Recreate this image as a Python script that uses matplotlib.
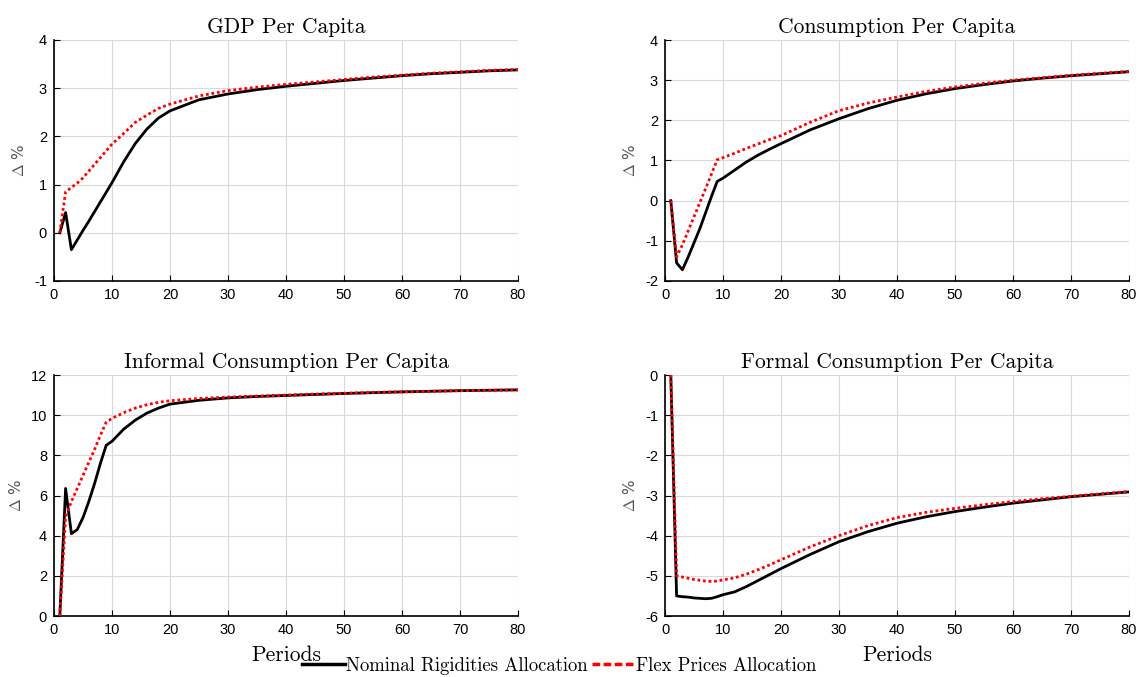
import matplotlib
matplotlib.use("Agg")
import matplotlib.pyplot as plt
from matplotlib.lines import Line2D

plt.rcParams["mathtext.fontset"] = "cm"
plt.rcParams["axes.unicode_minus"] = False

periods = [1, 2, 3, 4, 5, 6, 7, 8, 9, 10, 12, 14, 16, 18, 20, 25, 30, 35, 40,
           45, 50, 55, 60, 65, 70, 75, 80]

gdp_nom = [0, 0.42, -0.35, -0.15, 0.05, 0.24, 0.44, 0.64, 0.84, 1.04, 1.47, 1.85,
           2.15, 2.38, 2.53, 2.76, 2.88, 2.97, 3.04, 3.10, 3.16, 3.21, 3.26, 3.30,
           3.33, 3.36, 3.38]
gdp_flex = [0, 0.85, 0.94, 1.03, 1.14, 1.28, 1.42, 1.56, 1.70, 1.84, 2.06, 2.29,
            2.44, 2.58, 2.67, 2.84, 2.95, 3.02, 3.08, 3.13, 3.18, 3.23, 3.27, 3.31,
            3.34, 3.37, 3.39]

cons_nom = [0, -1.55, -1.72, -1.40, -1.05, -0.70, -0.30, 0.10, 0.48, 0.56, 0.76,
            0.96, 1.13, 1.28, 1.42, 1.76, 2.04, 2.29, 2.50, 2.66, 2.79, 2.89, 2.98,
            3.05, 3.11, 3.16, 3.21]
cons_flex = [0, -1.40, -1.10, -0.75, -0.40, -0.05, 0.30, 0.66, 1.02, 1.07, 1.18,
             1.30, 1.41, 1.52, 1.62, 1.95, 2.24, 2.43, 2.58, 2.72, 2.83, 2.92, 3.00,
             3.06, 3.12, 3.17, 3.22]

inf_nom = [0, 6.35, 4.10, 4.30, 4.90, 5.70, 6.60, 7.60, 8.50, 8.70, 9.30, 9.75,
           10.10, 10.35, 10.55, 10.74, 10.86, 10.93, 10.98, 11.03, 11.08, 11.12,
           11.16, 11.19, 11.22, 11.24, 11.26]
inf_flex = [0, 4.95, 5.70, 6.35, 7.00, 7.65, 8.30, 9.00, 9.65, 9.84, 10.12, 10.35,
            10.52, 10.64, 10.72, 10.83, 10.90, 10.95, 11.00, 11.05, 11.09, 11.13,
            11.16, 11.19, 11.22, 11.24, 11.26]

form_nom = [0, -5.50, -5.52, -5.53, -5.55, -5.56, -5.57, -5.56, -5.52, -5.47, -5.40,
            -5.27, -5.12, -4.97, -4.82, -4.47, -4.15, -3.90, -3.69, -3.53, -3.40,
            -3.29, -3.19, -3.11, -3.03, -2.97, -2.91]
form_flex = [0, -5.00, -5.03, -5.06, -5.09, -5.11, -5.13, -5.14, -5.13, -5.10, -5.05,
             -4.96, -4.85, -4.73, -4.60, -4.28, -4.00, -3.75, -3.55, -3.42, -3.32,
             -3.23, -3.15, -3.08, -3.02, -2.96, -2.90]

titles = ["GDP Per Capita", "Consumption Per Capita",
          "Informal Consumption Per Capita", "Formal Consumption Per Capita"]
series = [(gdp_nom, gdp_flex), (cons_nom, cons_flex),
          (inf_nom, inf_flex), (form_nom, form_flex)]
ylims = [(-1, 4), (-2, 4), (0, 12), (-6, 0)]
yticks = [range(-1, 5), range(-2, 5), range(0, 13, 2), range(-6, 1)]

fig = plt.figure(figsize=(11.4, 6.77), dpi=100)
W, H = 1140, 677
boxes = [(54, 40), (665, 40), (54, 375), (665, 375)]
tick_font = "Liberation Sans"
serif = "cmr10"

for i, (x0, y0) in enumerate(boxes):
    ax = fig.add_axes([x0 / W, 1 - (y0 + 241) / H, 464 / W, 241 / H])
    nom, flex = series[i]
    ax.plot(periods, nom, color="black", lw=2, zorder=3)
    ax.plot(periods, flex, color="red", lw=2, ls=(0, (1, 1)), zorder=4)
    ax.set_xlim(0, 80)
    ax.set_ylim(*ylims[i])
    ax.set_xticks(range(0, 81, 10))
    ax.set_yticks(list(yticks[i]))
    ax.grid(True, color="#d9d9d9", lw=0.8)
    ax.set_axisbelow(True)
    for s in ("top", "right"):
        ax.spines[s].set_visible(False)
    ax.spines["left"].set_linewidth(1.2)
    ax.spines["bottom"].set_linewidth(1.2)
    ax.tick_params(direction="in", length=4, labelsize=10.5, colors="black", pad=5)
    for lab in ax.get_xticklabels() + ax.get_yticklabels():
        lab.set_family(tick_font)
    ax.set_title(titles[i], fontfamily=serif, fontsize=15.5, pad=5)
    ax.set_ylabel(r"$\Delta$ %", color="#555555", fontsize=11, labelpad=5)
    if i >= 2:
        ax.set_xlabel("Periods", fontfamily=serif, fontsize=15.5, labelpad=6)

handles = [Line2D([], [], color="black", lw=2.5),
           Line2D([], [], color="red", lw=2.5, ls=(0, (2.2, 1.0)))]
fig.legend(handles, ["Nominal Rigidities Allocation", "Flex Prices Allocation"],
           loc="center", bbox_to_anchor=(559 / W, 1 - 666 / H), ncol=2,
           frameon=False, handlelength=2.3, handletextpad=0.05, columnspacing=0.2,
           prop={"family": serif, "size": 13.5})

fig.savefig("out.png", dpi=100)
